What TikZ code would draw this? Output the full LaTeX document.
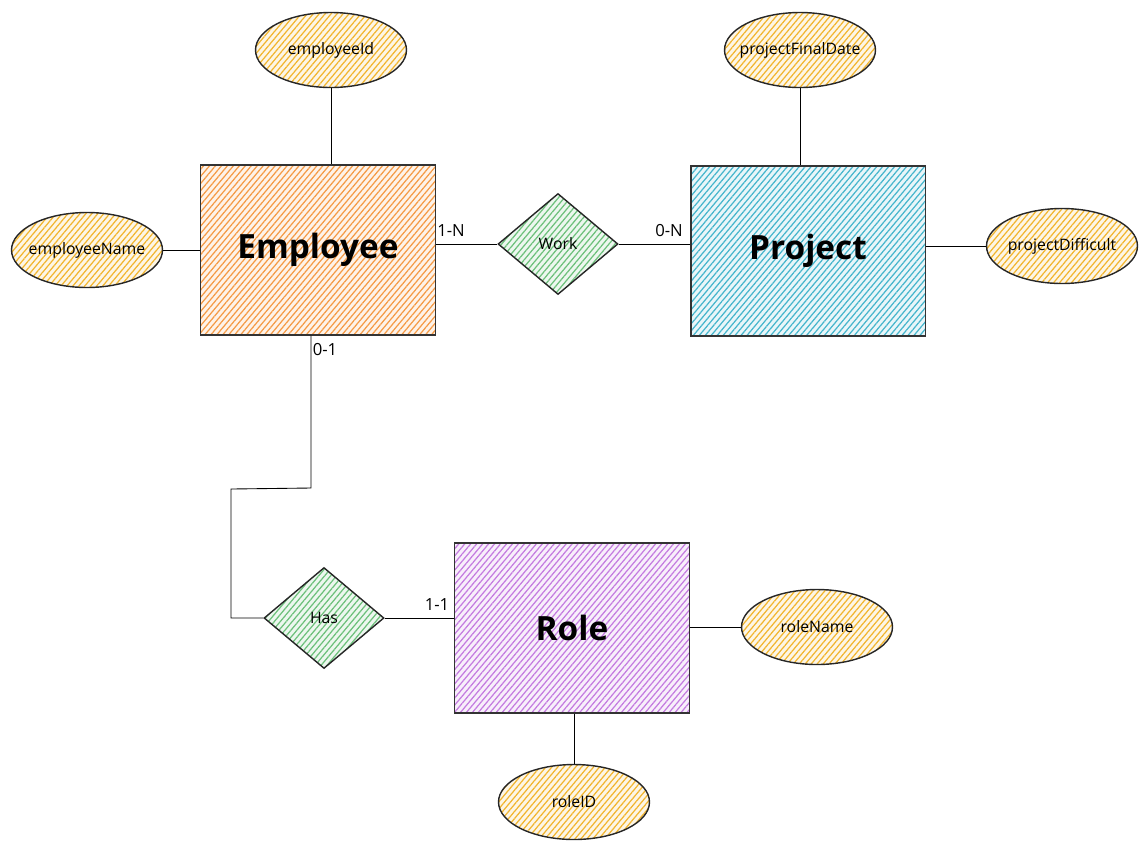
\documentclass[tikz,border=0pt]{standalone}
\usepackage{fontspec}
\setmainfont{Open Sans}
\usepackage{tikz}
\usetikzlibrary{shapes.geometric, patterns.meta}
\definecolor{empOrange}{HTML}{F59A45}
\definecolor{projCyan}{HTML}{45B5CC}
\definecolor{roleViolet}{HTML}{C47BE0}
\definecolor{relGreen}{HTML}{6CC07A}
\definecolor{attrYellow}{HTML}{F2B52E}
\tikzset{
  every node/.style = {inner sep=0pt},
  entity/.style     = {rectangle, draw=black!80, line width=1.1pt,
                       minimum width=4.7cm, minimum height=3.4cm,
                       font=\fontsize{19}{22}\selectfont\bfseries},
  hatch/.style      = {preaction={fill=#1!12},
                       pattern={Lines[angle=50, distance=2.6pt, line width=0.7pt]},
                       pattern color=#1},
  relation/.style   = {diamond, draw=black!85, line width=0.8pt,
                       minimum width=2.4cm, minimum height=2.02cm,
                       font=\fontsize{9}{11}\selectfont, hatch=relGreen},
  attribute/.style  = {ellipse, draw=black!85, line width=0.8pt,
                       inner xsep=-7pt, inner ysep=0pt,
                       minimum width=3.02cm, minimum height=1.5cm,
                       font=\fontsize{9}{11}\selectfont, hatch=attrYellow},
  link/.style       = {draw=black, line width=0.5pt},
  card/.style       = {font=\fontsize{9.5}{11}\selectfont}
}
\begin{document}
\begin{tikzpicture}[x=0.02cm, y=-0.02cm]
  \useasboundingbox (0,0) rectangle (1148,849);
  % entities
  \node[entity, hatch=empOrange]  (emp)  at (318,250) {Employee};
  \node[entity, hatch=projCyan]   (proj) at (808,251) {Project};
  \node[entity, hatch=roleViolet] (role) at (572,628) {Role};
  % relations
  \node[relation] (work) at (558,244) {Work};
  \node[relation] (has)  at (324,618) {Has};
  % attributes
  \node[attribute] (empId)    at (331,50)   {employeeId};
  \node[attribute] (empName)  at (87,250)   {employeeName};
  \node[attribute] (projDate) at (800,50)   {projectFinalDate};
  \node[attribute] (projDiff) at (1062,246) {projectDifficult};
  \node[attribute] (roleName) at (817,627)  {roleName};
  \node[attribute] (roleId)   at (574,802)  {roleID};
  % bends of the Employee--Has line
  \coordinate (bendA) at (311,488);
  \coordinate (bendB) at (231,489);
  % connectors
  \draw[link] (empId.south) -- (empId.south |- emp.north);
  \draw[link] (empName.east) -- (emp.west);
  \draw[link] (emp.east |- work) -- (work.west);
  \draw[link] (work.east) -- (work -| proj.west);
  \draw[link] (projDate.south) -- (projDate.south |- proj.north);
  \draw[link] (proj.east |- projDiff) -- (projDiff.west);
  \draw[link] (emp.south -| bendA) -- (bendA) -- (bendB) -- (bendB |- has) -- (has.west);
  \draw[link] (has.east) -- (has -| role.west);
  \draw[link] (role.east |- roleName) -- (roleName.west);
  \draw[link] (role.south -| roleId) -- (roleId.north);
  % cardinalities
  \node[card] (cWorkEmp)  at (451,231) {1-N};
  \node[card] (cWorkProj) at (669,231) {0-N};
  \node[card] (cHasEmp)   at (325,350) {0-1};
  \node[card] (cHasRole)  at (437,605) {1-1};
\end{tikzpicture}
\end{document}
